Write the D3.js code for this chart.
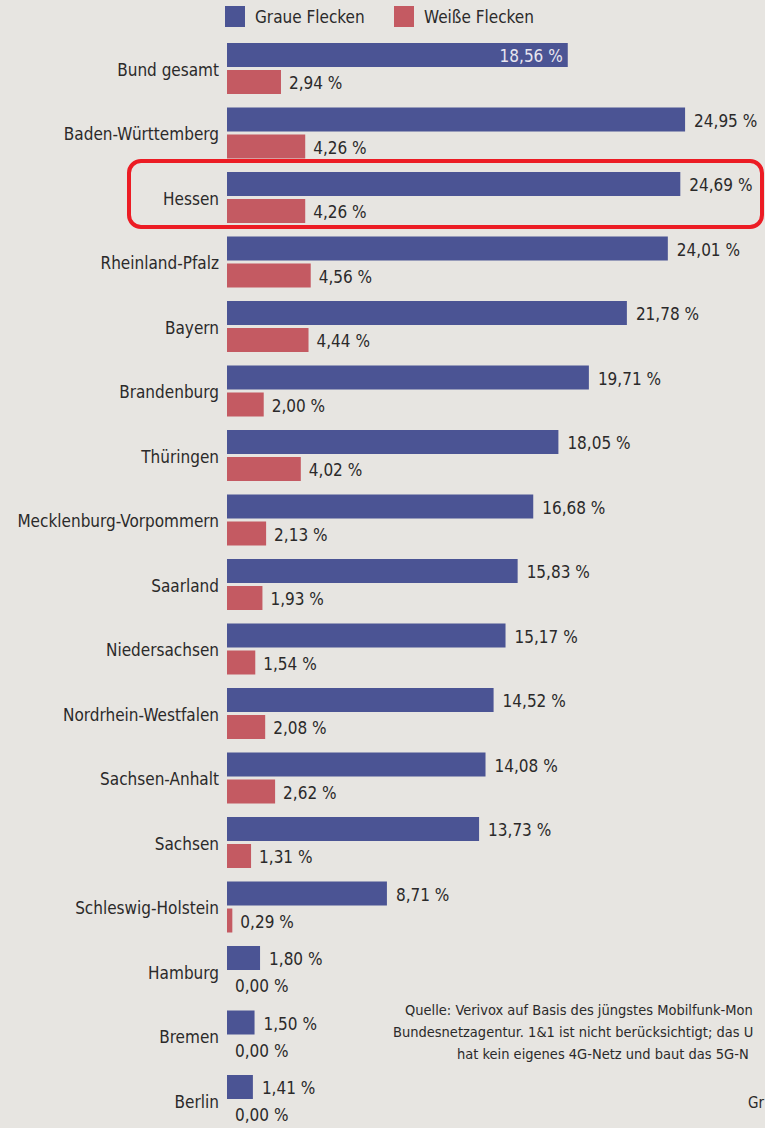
<!DOCTYPE html>
<html>
<head>
<meta charset="utf-8">
<script src="https://cdn.jsdelivr.net/npm/d3@7"></script>
<style>
  html, body { margin: 0; padding: 0; background: #e7e5e1; }
  svg { display: block; }
  text { font-family: "Liberation Sans Narrow", "DejaVu Sans Condensed", sans-serif; fill: #2b2a2a; }
</style>
</head>
<body>
<div id="chart"></div>
<script>
// Bundeslaender, sortiert wie in der Grafik
var states = ["Bund gesamt", "Baden-Württemberg", "Hessen", "Rheinland-Pfalz", "Bayern",
  "Brandenburg", "Thüringen", "Mecklenburg-Vorpommern", "Saarland", "Niedersachsen",
  "Nordrhein-Westfalen", "Sachsen-Anhalt", "Sachsen", "Schleswig-Holstein",
  "Hamburg", "Bremen", "Berlin"];

// Graue Flecken in Prozent
var grey = [18.56, 24.95, 24.69, 24.01, 21.78, 19.71, 18.05, 16.68, 15.83, 15.17,
  14.52, 14.08, 13.73, 8.71, 1.80, 1.50, 1.41];

// Weisse Flecken in Prozent
var white = [2.94, 4.26, 4.26, 4.56, 4.44, 2.00, 4.02, 2.13, 1.93, 1.54,
  2.08, 2.62, 1.31, 0.29, 0.00, 0.00, 0.00];

var legendLabels = ["Graue Flecken", "Weiße Flecken"];
var colors = ["#4b5494", "#c45a62"];

var sourceLines = [
  "Quelle: Verivox auf Basis des jüngstes Mobilfunk-Mon",
  "Bundesnetzagentur. 1&1 ist nicht berücksichtigt; das U",
  "hat kein eigenes 4G-Netz und baut das 5G-N"
];

var w = 765;
var h = 1128;

var fmt = function(v) { return d3.format(".2f")(v).replace(".", ",") + " %"; };

var svg = d3.select("#chart")
  .append("svg")
  .attr("width", w)
  .attr("height", h);

// x scale: percent -> pixels
var x = d3.scaleLinear()
  .domain([0, 25])
  .range([227, 686]);

// one band per state
var y = d3.scaleBand()
  .domain(states)
  .range([43, 43 + 64.5 * states.length])
  .paddingInner(0)
  .paddingOuter(0);

var barH = 24;
var gap = 3;

// legend
var legend = svg.selectAll("g.legend")
  .data(legendLabels)
  .enter()
  .append("g")
  .attr("class", "legend")
  .attr("transform", function(d, i) { return "translate(" + [225, 394][i] + ",6)"; });

legend.append("rect")
  .attr("width", 20)
  .attr("height", 21)
  .attr("fill", function(d, i) { return colors[i]; });

legend.append("text")
  .attr("x", 30)
  .attr("y", 17)
  .attr("font-size", "17px")
  .text(function(d) { return d; });

// rows
var rows = svg.selectAll("g.row")
  .data(states)
  .enter()
  .append("g")
  .attr("class", "row")
  .attr("transform", function(d) { return "translate(0," + y(d) + ")"; });

// grey bars
rows.append("rect")
  .attr("x", x(0))
  .attr("y", 0)
  .attr("width", function(d, i) { return x(grey[i]) - x(0); })
  .attr("height", barH)
  .attr("fill", colors[0]);

// white-spot bars
rows.append("rect")
  .attr("x", x(0))
  .attr("y", barH + gap)
  .attr("width", function(d, i) { return x(white[i]) - x(0); })
  .attr("height", barH)
  .attr("fill", colors[1]);

// state names
rows.append("text")
  .attr("x", 219)
  .attr("y", barH + gap / 2 + 7)
  .attr("text-anchor", "end")
  .attr("font-size", "17px")
  .text(function(d) { return d; });

// grey values (first one sits inside the bar, white)
rows.append("text")
  .attr("x", function(d, i) { return i === 0 ? x(grey[i]) - 5 : x(grey[i]) + 9; })
  .attr("y", barH / 2 + 7)
  .attr("text-anchor", function(d, i) { return i === 0 ? "end" : "start"; })
  .attr("font-size", "17px")
  .style("fill", function(d, i) { return i === 0 ? "#e8e6f0" : null; })
  .text(function(d, i) { return fmt(grey[i]); });

// white values
rows.append("text")
  .attr("x", function(d, i) { return x(white[i]) + 8; })
  .attr("y", barH + gap + barH / 2 + 7)
  .attr("font-size", "17px")
  .text(function(d, i) { return fmt(white[i]); });

// red highlight around Hessen
svg.append("rect")
  .attr("x", 129)
  .attr("y", y("Hessen") - 11)
  .attr("width", 633)
  .attr("height", 66)
  .attr("rx", 12)
  .attr("fill", "none")
  .attr("stroke", "#ec1c24")
  .attr("stroke-width", 4);

// source note (cut at the right edge like the scan)
svg.selectAll("text.src")
  .data(sourceLines)
  .enter()
  .append("text")
  .attr("class", "src")
  .attr("x", function(d, i) { return [405, 393, 457][i]; })
  .attr("y", function(d, i) { return 1015 + i * 22; })
  .attr("font-size", "14.5px")
  .text(function(d) { return d; });

svg.append("text")
  .attr("x", 748)
  .attr("y", 1108)
  .attr("font-size", "15px")
  .text("Gr");
</script>
</body>
</html>
